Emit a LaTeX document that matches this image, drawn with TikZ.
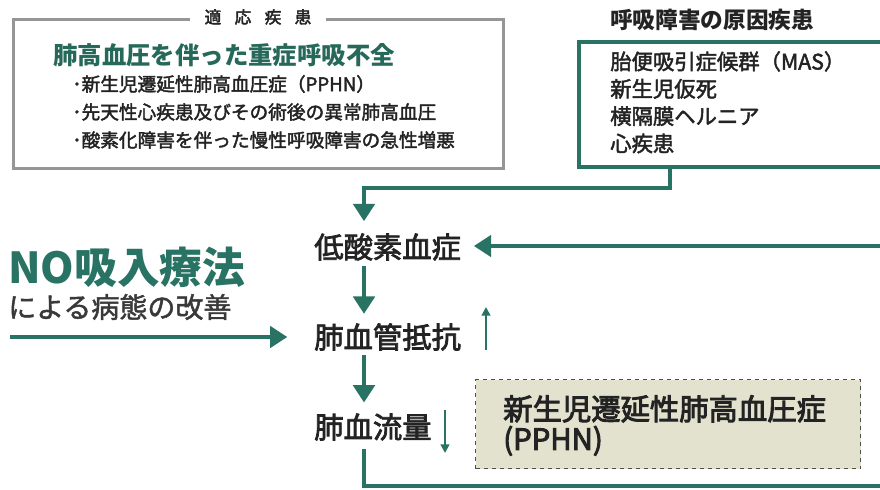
\documentclass[tikz,border=0pt]{standalone}
\usepackage{fontspec}
\setmainfont{Noto Sans CJK JP}
\newcommand\heavytext[2]{\special{pdf:literal direct 2 Tr #1 w}#2\special{pdf:literal direct 0 Tr 0.4 w}}
\usetikzlibrary{arrows.meta}
\definecolor{nogreen}{RGB}{40,115,100}
\definecolor{titlegreen}{RGB}{38,105,90}
\definecolor{framegray}{RGB}{150,150,150}
\definecolor{pphnfill}{RGB}{226,226,206}
\definecolor{ink}{RGB}{35,35,35}
\tikzset{
  flow/.style={draw=nogreen, line width=3pt, -{Triangle[width=16pt,length=13pt]}},
  flowline/.style={draw=nogreen, line width=3pt},
  thinarr/.style={draw=nogreen, line width=2pt, -{Triangle[width=6.5pt,length=6.5pt]}},
  stage/.style={font=\fontsize{22}{24}\selectfont, text=ink, inner sep=0pt, anchor=west},
  bullet/.style={font=\fontsize{14}{16}\selectfont, text=ink, inner sep=0pt, anchor=west},
  masitem/.style={font=\fontsize{16}{20.5}\selectfont, text=ink, inner sep=0pt, anchor=north west, align=left},
}
\begin{document}
\begin{tikzpicture}[x=0.75pt,y=-0.75pt]
\useasboundingbox (0,0) rectangle (880,489);
\clip (0,0) rectangle (880,489);

% --- indication box ---
\node[draw=framegray, line width=2.2pt, minimum width=367.5pt, minimum height=111.75pt, anchor=north west, inner sep=0pt] (indbox) at (12,18) {};
\node[fill=white, inner xsep=11pt, inner ysep=1pt, text=ink, font=\fontsize{12.5}{14}\selectfont] (indhead) at (258,17) {\heavytext{0.3}{適\hspace{10pt}応\hspace{10pt}疾\hspace{10pt}患}};
\node[font=\fontsize{18.3}{20}\selectfont\bfseries, text=titlegreen, inner sep=0pt, anchor=west] (indtitle) at (53,55) {肺高血圧を伴った重症呼吸不全};
\node[bullet] (b1) at (72,84) {\heavytext{0.3}{･新生児遷延性肺高血圧症（PPHN）}};
\node[bullet] (b2) at (72,112) {\heavytext{0.3}{･先天性心疾患及びその術後の異常肺高血圧}};
\node[bullet] (b3) at (72,140) {\heavytext{0.3}{･酸素化障害を伴った慢性呼吸障害の急性増悪}};

% --- cause box ---
\node[font=\fontsize{17}{19}\selectfont\bfseries, text=ink, inner sep=0pt, anchor=west] (mashead) at (610,20) {呼吸障害の原因疾患};
\node[draw=nogreen, line width=3pt, minimum width=262.5pt, minimum height=93.75pt, anchor=north west, inner sep=0pt] (masbox) at (577,40) {};
\node[masitem] (masitems) at (610,51) {\heavytext{0.35}{胎便吸引症候群（MAS）}\\\heavytext{0.35}{新生児仮死}\\\heavytext{0.35}{横隔膜ヘルニア}\\\heavytext{0.35}{心疾患}};

% --- NO therapy ---
\node[font=\fontsize{32}{34}\selectfont\bfseries, text=nogreen, inner sep=0pt, anchor=west] (notitle) at (8,267) {NO吸入療法};
\node[font=\fontsize{21}{23}\selectfont, text=ink!90, inner sep=0pt, anchor=west] (nosub) at (8,307) {\heavytext{0.35}{による病態の改善}};

% --- stages ---
\node[stage] (hypox) at (314,247) {\heavytext{0.55}{低酸素血症}};
\node[stage] (pvr) at (314,337) {\heavytext{0.55}{肺血管抵抗}};
\node[stage] (pbf) at (314,427) {\heavytext{0.55}{肺血流量}};

% --- PPHN box ---
\node[draw=ink!80, dashed, line width=0.8pt, fill=pphnfill, minimum width=288.75pt, minimum height=66.75pt, anchor=north west, inner sep=0pt] (pphnbox) at (475,379) {};
\node[font=\fontsize{22}{22.5}\selectfont, text=ink, inner sep=0pt, anchor=north west, align=left] (pphn) at (503,395) {\heavytext{0.7}{新生児遷延性肺高血圧症}\\\heavytext{0.7}{(PPHN)}};

% --- coordinates ---
\coordinate (colx) at (364,0);
\coordinate (drop) at (670,0);
\coordinate (topcorner) at (364,188);
\coordinate (rightin) at (900,246);
\coordinate (botright) at (900,486);
\coordinate (nostart) at (10,337);
\coordinate (upbot) at (486,350);
\coordinate (uptop) at (486,307);
\coordinate (dntop) at (445,410);
\coordinate (dnbot) at (445,453);

% --- connectors ---
\draw[flow, shorten >=9pt] (masbox.south -| drop) -- (drop |- topcorner) -- (topcorner) -- (hypox.north -| colx);
\draw[flow, shorten <=4pt, shorten >=7pt] (hypox.south -| colx) -- (pvr.north -| colx);
\draw[flow, shorten <=3pt, shorten >=8pt] (pvr.south -| colx) -- (pbf.north -| colx);
\draw[flowline, shorten <=6pt] (pbf.south -| colx) -- (colx |- botright) -- (botright);
\draw[flow, shorten >=9.5pt] (rightin) -- (rightin -| hypox.east);
\draw[flow, shorten >=20pt] (nostart) -- (nostart -| pvr.west);
\draw[thinarr] (upbot) -- (uptop);
\draw[thinarr] (dntop) -- (dnbot);
\end{tikzpicture}
\end{document}
